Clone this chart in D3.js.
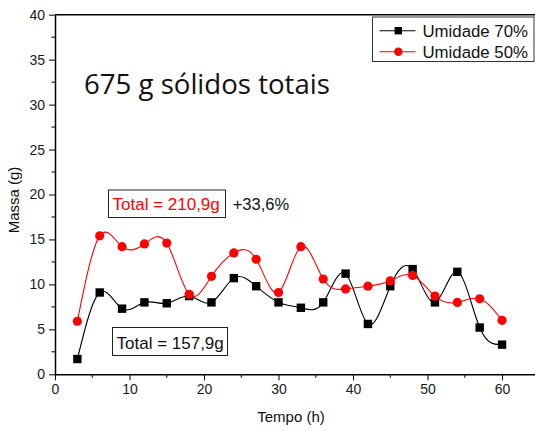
<!DOCTYPE html>
<html>
<head>
<meta charset="utf-8">
<script src="https://cdn.jsdelivr.net/npm/d3@7.9.0/dist/d3.min.js"></script>
<style>
  body { margin: 0; background: #fff; }
  svg { display: block; font-family: Arial, 'Liberation Sans', sans-serif; }
</style>
</head>
<body>
<svg id="chart" width="535" height="431"></svg>
<script>
// time (h)
const tempo = [3, 6, 9, 12, 15, 18, 21, 24, 27, 30, 33, 36, 39, 42, 45, 48, 51, 54, 57, 60];
const umidade70 = [1.7, 9.1, 7.3, 8.0, 7.9, 8.7, 8.0, 10.7, 9.8, 8.0, 7.4, 8.0, 11.2, 5.6, 9.8, 11.7, 8.0, 11.4, 5.2, 3.3];
const umidade50 = [5.9, 15.4, 14.2, 14.5, 14.6, 8.9, 10.9, 13.5, 12.8, 9.1, 14.2, 10.6, 9.5, 9.8, 10.4, 11.0, 8.7, 8.0, 8.4, 6.0];
const seriesNames = ['Umidade 70%', 'Umidade 50%'];
const seriesColors = ['#000000', '#ff0000'];
const xTicks = [0, 10, 20, 30, 40, 50, 60];
const yTicks = [0, 5, 10, 15, 20, 25, 30, 35, 40];

const svg = d3.select('#chart');

const x = d3.scaleLinear().domain([0, 65]).range([55, 539.3]);
const y = d3.scaleLinear().domain([0, 40]).range([374.3, 14.7]);

// minor ticks
const xMinor = d3.range(5, 65, 10);
const yMinor = d3.range(2.5, 40, 5);

const xAxis = d3.axisBottom(x).tickValues(xTicks).tickSize(6).tickPadding(4).tickSizeOuter(0);
const yAxis = d3.axisLeft(y).tickValues(yTicks).tickSize(6).tickPadding(4).tickSizeOuter(0);

const gx = svg.append('g').attr('transform', `translate(0,${y(0)})`).call(xAxis);
const gy = svg.append('g').attr('transform', `translate(${x(0)},0)`).call(yAxis);

gx.append('g').selectAll('line').data(xMinor).join('line')
  .attr('x1', d => x(d)).attr('x2', d => x(d)).attr('y1', 0).attr('y2', 3.5)
  .attr('stroke', '#000');
gy.append('g').selectAll('line').data(yMinor).join('line')
  .attr('y1', d => y(d)).attr('y2', d => y(d)).attr('x1', 0).attr('x2', -3.5)
  .attr('stroke', '#000');

[gx, gy].forEach(g => {
  g.selectAll('.domain').attr('stroke', '#000').attr('stroke-width', 1.5);
  g.selectAll('.tick line').attr('stroke', '#000').attr('stroke-width', 1);
  g.selectAll('text').attr('font-size', 14).attr('fill', '#1a1a1a')
    .attr('font-family', 'Arial, Liberation Sans, sans-serif');
});

// top frame line
svg.append('line')
  .attr('x1', x(0)).attr('x2', x(65)).attr('y1', y(40)).attr('y2', y(40))
  .attr('stroke', '#000').attr('stroke-width', 1.5);

// axis titles
svg.append('text')
  .attr('x', 291).attr('y', 422)
  .attr('text-anchor', 'middle').attr('font-size', 15).attr('fill', '#111')
  .text('Tempo (h)');
svg.append('text')
  .attr('transform', 'translate(18.5,200) rotate(-90)')
  .attr('text-anchor', 'middle').attr('font-size', 15).attr('fill', '#111')
  .text('Massa (g)');

// series
const line = d3.line()
  .x(d => x(d[0]))
  .y(d => y(d[1]))
  .curve(d3.curveNatural);

const allSeries = [umidade70, umidade50].map(vals => tempo.map((t, i) => [t, vals[i]]));

allSeries.forEach((pts, s) => {
  svg.append('path')
    .datum(pts)
    .attr('d', line)
    .attr('fill', 'none')
    .attr('stroke', seriesColors[s])
    .attr('stroke-width', 1.1);
});

// markers: squares for 70%, circles for 50%
svg.append('g').selectAll('rect').data(allSeries[0]).join('rect')
  .attr('x', d => x(d[0]) - 4.2).attr('y', d => y(d[1]) - 4.2)
  .attr('width', 8.4).attr('height', 8.4)
  .attr('fill', seriesColors[0]);
svg.append('g').selectAll('circle').data(allSeries[1]).join('circle')
  .attr('cx', d => x(d[0])).attr('cy', d => y(d[1]))
  .attr('r', 4.6)
  .attr('fill', seriesColors[1]);

// legend
const legend = svg.append('g');
legend.append('rect')
  .attr('x', 372.5).attr('y', 17).attr('width', 161.5).attr('height', 44.5)
  .attr('fill', '#fff').attr('stroke', '#333').attr('stroke-width', 1);
seriesNames.forEach((name, i) => {
  const ly = 30.7 + i * 21;
  legend.append('line')
    .attr('x1', 379.5).attr('x2', 415.5).attr('y1', ly).attr('y2', ly)
    .attr('stroke', seriesColors[i]).attr('stroke-width', 1.1);
  if (i === 0) {
    legend.append('rect')
      .attr('x', 398.3 - 3.7).attr('y', ly - 3.7).attr('width', 7.4).attr('height', 7.4)
      .attr('fill', seriesColors[i]);
  } else {
    legend.append('circle')
      .attr('cx', 398.3).attr('cy', ly).attr('r', 4.2)
      .attr('fill', seriesColors[i]);
  }
  legend.append('text')
    .attr('x', 422.5).attr('y', ly + 5.8)
    .attr('font-size', 16.8).attr('fill', '#111')
    .text(name);
});

// annotations
svg.append('text')
  .attr('x', 84).attr('y', 93.5)
  .attr('font-family', '"Open Sans", Lato, sans-serif')
  .attr('font-size', 27.6).attr('fill', '#111')
  .text('675 g sólidos totais');

svg.append('rect')
  .attr('x', 108.5).attr('y', 190).attr('width', 117).attr('height', 27.5)
  .attr('fill', '#fff').attr('stroke', '#222').attr('stroke-width', 1);
svg.append('text')
  .attr('x', 112.5).attr('y', 209.5).attr('font-size', 17).attr('fill', '#ff0000')
  .text('Total = 210,9g');
svg.append('text')
  .attr('x', 232.7).attr('y', 209.5).attr('font-size', 16.5).attr('fill', '#111')
  .text('+33,6%');

svg.append('rect')
  .attr('x', 112.5).attr('y', 327.5).attr('width', 115).attr('height', 28)
  .attr('fill', '#fff').attr('stroke', '#222').attr('stroke-width', 1);
svg.append('text')
  .attr('x', 116.5).attr('y', 348.5).attr('font-size', 17).attr('fill', '#111')
  .text('Total = 157,9g');
</script>
</body>
</html>
